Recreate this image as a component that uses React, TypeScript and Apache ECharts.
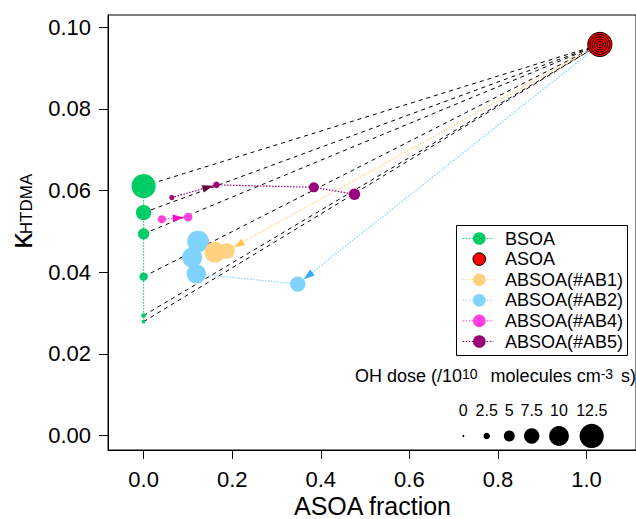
import React, { useEffect, useRef } from "react";
import * as echarts from "echarts";

// ---------- data ----------
const xTicks = [0, 0.2, 0.4, 0.6, 0.8, 1.0];
const yTicks = [0, 0.02, 0.04, 0.06, 0.08, 0.1];

const bsoaFrac = [0, 0, 0, 0, 0, 0];
const bsoaKappa = [0.0279, 0.0294, 0.0389, 0.0494, 0.0546, 0.0611];
const bsoaDose = [1.1, 1.5, 3.6, 5.2, 7.5, 12.5];

const asoaFrac = 1.03;
const asoaKappa = 0.0958;
const asoaRingDose = [12.5, 10, 7.5, 5, 2.5, 0];

const ab1Frac = [0.188, 0.161];
const ab1Kappa = [0.0452, 0.0449];
const ab1Dose = [7.7, 10.5];

const ab2Frac = [0.348, 0.119, 0.1095, 0.123];
const ab2Kappa = [0.0371, 0.0396, 0.0436, 0.0475];
const ab2Dose = [7.5, 9.8, 10.1, 11.2];

const ab4Frac = [0.0412, 0.1005];
const ab4Kappa = [0.053, 0.0535];
const ab4Dose = [3.4, 3.7];

const ab5Frac = [0.0638, 0.1645, 0.3844, 0.476];
const ab5Kappa = [0.0583, 0.0614, 0.0608, 0.0591];
const ab5Dose = [1.9, 2.6, 4.5, 5.3];

const doseLegend = [0, 2.5, 5, 7.5, 10, 12.5];
const doseLegendLabels = ["0", "2.5", "5", "7.5", "10", "12.5"];

const legendNames = ["BSOA", "ASOA", "ABSOA(#AB1)", "ABSOA(#AB2)", "ABSOA(#AB4)", "ABSOA(#AB5)"];
const legendColors = ["#00CC66", "#FF0000", "#FFD27F", "#7FD3FF", "#FF3FDF", "#99007A"];
const arrowColors = { AB1: "#FFC656", AB2: "#33AAF5", AB4: "#FF00CC", AB5: "#66003A" };

// ---------- helpers ----------
const FONT = "'Liberation Sans', Arial, Helvetica, sans-serif";
const symSize = (dose: number) => 2 + 1.78 * dose; // diameter in px
const X_MIN = -0.0804;
const X_MAX = 1.1116;
const Y_MIN = -0.00355;
const Y_MAX = 0.10301;

export default function App() {
  const ref = useRef<HTMLDivElement>(null);

  useEffect(() => {
    document.body.style.margin = "0";
    const chart = echarts.init(ref.current!, null, { renderer: "svg" });

    const asoaPt = [asoaFrac, asoaKappa];
    const zip = (xs: number[], ys: number[], ds: number[]) => xs.map((x, i) => [x, ys[i], ds[i]]);

    const samples = [
      { key: "AB2", name: legendNames[3], color: legendColors[3], data: zip(ab2Frac, ab2Kappa, ab2Dose), fromASOA: true, arrow: [-1, 0] },
      { key: "AB1", name: legendNames[2], color: legendColors[2], data: zip(ab1Frac, ab1Kappa, ab1Dose), fromASOA: true, arrow: [-1, 0] },
      { key: "AB4", name: legendNames[4], color: legendColors[4], data: zip(ab4Frac, ab4Kappa, ab4Dose), fromASOA: false, arrow: [0, 1] },
      { key: "AB5", name: legendNames[5], color: legendColors[5], data: zip(ab5Frac, ab5Kappa, ab5Dose), fromASOA: false, arrow: [0, 1] },
    ];

    const bsoa = zip(bsoaFrac, bsoaKappa, bsoaDose);

    const mixingLines = bsoa.map((p) => ({ coords: [[p[0], p[1]], asoaPt] }));

    const arrows: any[] = samples.map((s) => {
      const from = s.arrow[0] < 0 ? [asoaPt[0], asoaPt[1]] : [s.data[s.arrow[0]][0], s.data[s.arrow[0]][1]];
      const to = s.data[s.arrow[1]];
      return { value: [from[0], from[1], to[0], to[1], to[2]], color: (arrowColors as any)[s.key] };
    });

    const dotted = [1.5, 1.5];

    const series: any[] = [
      {
        type: "lines",
        coordinateSystem: "cartesian2d",
        silent: true,
        z: 1,
        lineStyle: { color: "#000", width: 1, type: [4, 4], opacity: 1 },
        data: mixingLines,
      },
      {
        type: "line",
        name: "BSOA path",
        z: 2,
        showSymbol: false,
        symbol: "none",
        lineStyle: { color: legendColors[0], width: 1, type: dotted },
        data: bsoa.map((p) => [p[0], p[1]]),
      },
      ...samples.map((s) => ({
        type: "line",
        name: s.name + " path",
        z: 2,
        showSymbol: false,
        symbol: "none",
        lineStyle: { color: s.color, width: 1.2, type: dotted },
        data: (s.fromASOA ? [asoaPt] : []).concat(s.data.map((p) => [p[0], p[1]])),
      })),
      {
        type: "scatter",
        name: "BSOA",
        z: 3,
        symbol: "circle",
        symbolSize: (v: number[]) => symSize(v[2]),
        itemStyle: { color: legendColors[0], opacity: 1 },
        data: bsoa,
      },
      ...samples.map((s) => ({
        type: "scatter",
        name: s.name,
        z: 3,
        symbol: "circle",
        symbolSize: (v: number[]) => symSize(v[2]),
        itemStyle: { color: s.color, opacity: 1 },
        data: s.data,
      })),
      {
        type: "scatter",
        name: "ASOA",
        z: 4,
        symbol: "circle",
        symbolSize: (v: number[]) => symSize(v[2]),
        itemStyle: { color: legendColors[1], borderColor: "#000", borderWidth: 1, opacity: 1 },
        data: asoaRingDose.map((d) => [asoaPt[0], asoaPt[1], d]),
      },
      {
        type: "custom",
        name: "arrows",
        coordinateSystem: "cartesian2d",
        z: 5,
        encode: { x: [0, 2], y: [1, 3] },
        renderItem: (params: any, api: any) => {
          const a = api.coord([api.value(0), api.value(1)]);
          const b = api.coord([api.value(2), api.value(3)]);
          const r = symSize(api.value(4)) / 2;
          const dx = b[0] - a[0];
          const dy = b[1] - a[1];
          const len = Math.hypot(dx, dy) || 1;
          const ux = dx / len;
          const uy = dy / len;
          const L = 11;
          const W = 7.5;
          const tip = [b[0] - ux * r, b[1] - uy * r];
          const base = [tip[0] - ux * L, tip[1] - uy * L];
          return {
            type: "polygon",
            shape: {
              points: [
                tip,
                [base[0] - (uy * W) / 2, base[1] + (ux * W) / 2],
                [base[0] + (uy * W) / 2, base[1] - (ux * W) / 2],
              ],
            },
            style: { fill: arrows[params.dataIndex].color, stroke: "none" },
          };
        },
        data: arrows.map((a) => a.value),
      },
    ];

    // ---------- graphic: legends and axis titles ----------
    const graphic: any[] = [];
    const LX = 456.5, LY = 225.5, LW = 171, LH = 130;
    graphic.push({
      type: "rect",
      z: 100,
      shape: { x: LX, y: LY, width: LW, height: LH },
      style: { fill: "#fff", stroke: "#000", lineWidth: 1 },
    });
    legendNames.forEach((name, i) => {
      const cy = 238.5 + i * 20.6;
      const isAsoa = name === "ASOA";
      if (!isAsoa) {
        graphic.push({
          type: "line",
          z: 101,
          shape: { x1: 462.7, y1: cy, x2: 493.3, y2: cy },
          style: { stroke: legendColors[i], lineWidth: 1, lineDash: [1.5, 1.5] },
        });
      }
      graphic.push({
        type: "circle",
        z: 102,
        shape: { cx: 479.3, cy, r: 6.3 },
        style: { fill: legendColors[i], stroke: isAsoa ? "#000" : "none", lineWidth: 1 },
      });
      graphic.push({
        type: "text",
        z: 102,
        x: 505,
        y: cy,
        style: { text: name, font: `18px ${FONT}`, fill: "#000", align: "left", verticalAlign: "middle" },
      });
    });

    // OH dose size legend
    graphic.push({
      type: "text",
      z: 100,
      x: 355,
      y: 367,
      style: {
        text: "{a|OH dose (/10}{s|10}{a|  molecules cm}{s|-3}{a| s)}",
        align: "left",
        verticalAlign: "top",
        fill: "#000",
        rich: {
          a: { fontSize: 18, fontFamily: FONT, lineHeight: 18, padding: [12, 0, 0, 0], verticalAlign: "bottom", fill: "#000" },
          s: { fontSize: 14, fontFamily: FONT, lineHeight: 14, verticalAlign: "top", padding: [0, 3, 0, 0], fill: "#000" },
        },
      },
    });
    const legX = [463.3, 486.7, 509.3, 531.7, 559, 591.7];
    doseLegend.forEach((d, i) => {
      graphic.push({
        type: "text",
        z: 100,
        x: legX[i],
        y: 410,
        style: { text: doseLegendLabels[i], font: `16px ${FONT}`, fill: "#000", align: "center", verticalAlign: "middle" },
      });
      graphic.push({
        type: "circle",
        z: 100,
        shape: { cx: legX[i], cy: 436, r: symSize(d) / 2 },
        style: { fill: "#000" },
      });
    });

    // Axis titles
    graphic.push({
      type: "text",
      z: 100,
      x: 372.5,
      y: 506,
      style: { text: "ASOA fraction", font: `25px ${FONT}`, fill: "#000", align: "center", verticalAlign: "middle" },
    });
    graphic.push({
      type: "text",
      z: 100,
      x: 21,
      y: 241,
      rotation: Math.PI / 2,
      style: { text: "κ", font: `32px ${FONT}`, fill: "#000", align: "center", verticalAlign: "middle" },
    });
    graphic.push({
      type: "text",
      z: 100,
      x: 26,
      y: 204,
      rotation: Math.PI / 2,
      style: { text: "HTDMA", font: `17px ${FONT}`, fill: "#000", align: "center", verticalAlign: "middle" },
    });

    chart.setOption({
      animation: false,
      grid: { left: 108, top: 15, right: -1, bottom: 69, show: true, borderColor: "#000", borderWidth: 1, backgroundColor: "transparent" },
      xAxis: {
        type: "value",
        min: X_MIN,
        max: X_MAX,
        splitLine: { show: false },
        axisLine: { show: true, onZero: false, lineStyle: { color: "#000", width: 1 } },
        axisTick: { show: true, inside: false, length: 9, customValues: xTicks, lineStyle: { color: "#000", width: 1 } },
        axisLabel: { customValues: xTicks, formatter: (v: number) => v.toFixed(1), margin: 18, fontSize: 22, fontFamily: FONT, color: "#000" },
      },
      yAxis: {
        type: "value",
        min: Y_MIN,
        max: Y_MAX,
        splitLine: { show: false },
        axisLine: { show: true, onZero: false, lineStyle: { color: "#000", width: 1 } },
        axisTick: { show: true, inside: false, length: 9, customValues: yTicks, lineStyle: { color: "#000", width: 1 } },
        axisLabel: { customValues: yTicks, formatter: (v: number) => v.toFixed(2), margin: 17, fontSize: 22, fontFamily: FONT, color: "#000" },
      },
      graphic,
      series,
    });

    return () => chart.dispose();
  }, []);

  return <div ref={ref} style={{ width: 636, height: 519 }} />;
}
